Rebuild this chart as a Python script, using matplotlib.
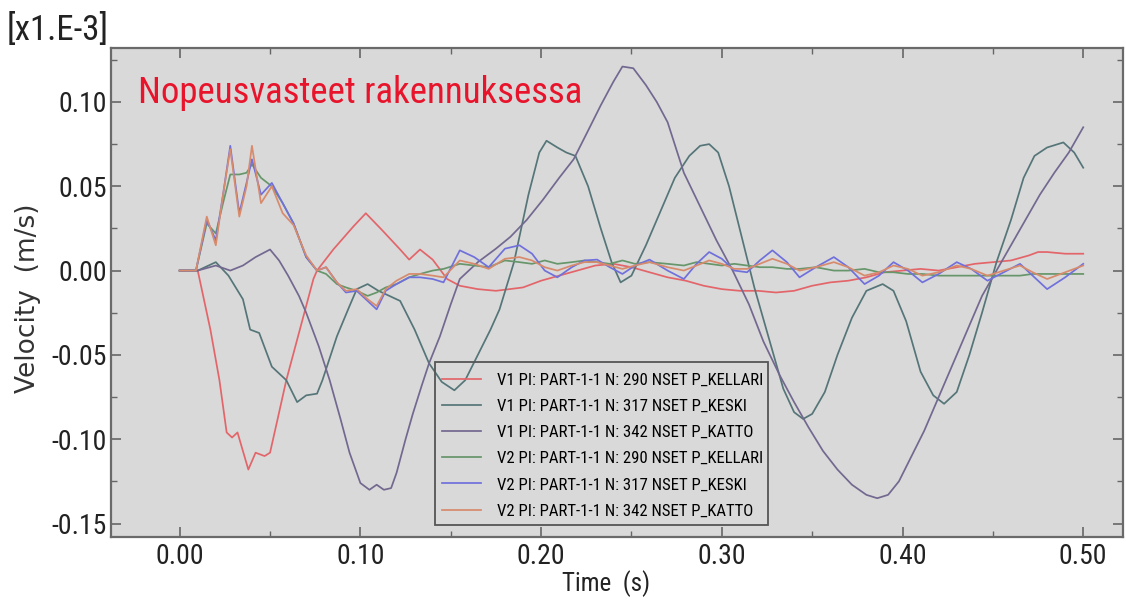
import matplotlib
matplotlib.use("Agg")
import matplotlib.pyplot as plt
from matplotlib.ticker import MultipleLocator, FormatStrFormatter
from matplotlib import font_manager
from matplotlib.font_manager import FontProperties
from matplotlib.patches import Rectangle

# ---------------- data ----------------
labels = [
    "V1 PI: PART-1-1 N: 290 NSET P_KELLARI",
    "V1 PI: PART-1-1 N: 317 NSET P_KESKI",
    "V1 PI: PART-1-1 N: 342 NSET P_KATTO",
    "V2 PI: PART-1-1 N: 290 NSET P_KELLARI",
    "V2 PI: PART-1-1 N: 317 NSET P_KESKI",
    "V2 PI: PART-1-1 N: 342 NSET P_KATTO",
]

t_v1_290 = [0, 0.010, 0.011, 0.017, 0.022, 0.026, 0.029, 0.032, 0.038, 0.042, 0.047, 0.050,
            0.054, 0.059, 0.065, 0.070, 0.074, 0.076, 0.085, 0.096, 0.103, 0.112, 0.122, 0.127,
            0.133, 0.140, 0.148, 0.155, 0.165, 0.175, 0.190, 0.200, 0.210, 0.220, 0.230, 0.240,
            0.250, 0.260, 0.270, 0.280, 0.290, 0.300, 0.310, 0.320, 0.330, 0.340, 0.350, 0.360,
            0.370, 0.380, 0.390, 0.400, 0.410, 0.420, 0.430, 0.440, 0.450, 0.460, 0.470, 0.475,
            0.480, 0.490, 0.500]
v_v1_290 = [0, 0, -0.005, -0.035, -0.065, -0.096, -0.099, -0.096, -0.118, -0.108, -0.110, -0.108,
            -0.089, -0.065, -0.041, -0.021, -0.005, 0.0, 0.0125, 0.026, 0.034, 0.024, 0.0125, 0.0065,
            0.0125, 0.0065, -0.005, -0.009, -0.011, -0.012, -0.010, -0.006, -0.003, 0.0, 0.003, 0.004,
            0.002, -0.001, -0.004, -0.006, -0.009, -0.011, -0.012, -0.012, -0.013, -0.012, -0.009, -0.007,
            -0.006, -0.004, -0.001, 0.0, 0.001, 0.0, 0.002, 0.004, 0.005, 0.006, 0.009, 0.011,
            0.011, 0.010, 0.010]

t_v1_317 = [0, 0.010, 0.020, 0.027, 0.035, 0.039, 0.044, 0.051, 0.059, 0.065, 0.070, 0.076,
            0.079, 0.087, 0.094, 0.098, 0.104, 0.110, 0.116, 0.122, 0.130, 0.138, 0.145, 0.152,
            0.158, 0.165, 0.172, 0.177, 0.185, 0.193, 0.199, 0.203, 0.209, 0.214, 0.219, 0.226,
            0.233, 0.239, 0.244, 0.250, 0.258, 0.266, 0.274, 0.282, 0.288, 0.293, 0.298, 0.304,
            0.311, 0.318, 0.326, 0.334, 0.340, 0.345, 0.350, 0.357, 0.364, 0.372, 0.380, 0.389,
            0.395, 0.402, 0.410, 0.417, 0.423, 0.430, 0.437, 0.444, 0.452, 0.460, 0.467, 0.473,
            0.480, 0.489, 0.495, 0.500]
v_v1_317 = [0, 0, 0.005, -0.003, -0.017, -0.035, -0.037, -0.057, -0.065, -0.078, -0.074, -0.073,
            -0.065, -0.039, -0.021, -0.011, -0.008, -0.012, -0.015, -0.018, -0.035, -0.055, -0.066, -0.071,
            -0.065, -0.050, -0.035, -0.023, 0.005, 0.045, 0.070, 0.077, 0.073, 0.070, 0.068, 0.050,
            0.025, 0.005, -0.007, -0.003, 0.015, 0.035, 0.055, 0.068, 0.074, 0.075, 0.070, 0.050,
            0.020, -0.010, -0.040, -0.070, -0.084, -0.088, -0.085, -0.072, -0.050, -0.028, -0.012, -0.008,
            -0.012, -0.030, -0.060, -0.074, -0.079, -0.072, -0.050, -0.025, 0.005, 0.030, 0.055, 0.068,
            0.073, 0.076, 0.070, 0.061]

t_v1_342 = [0, 0.010, 0.020, 0.028, 0.035, 0.042, 0.050, 0.055, 0.060, 0.066, 0.070, 0.077,
            0.083, 0.089, 0.094, 0.100, 0.105, 0.109, 0.113, 0.117, 0.120, 0.125, 0.129, 0.134,
            0.138, 0.144, 0.150, 0.155, 0.165, 0.175, 0.183, 0.192, 0.201, 0.210, 0.218, 0.226,
            0.233, 0.240, 0.245, 0.251, 0.258, 0.264, 0.270, 0.279, 0.288, 0.297, 0.306, 0.315,
            0.323, 0.332, 0.340, 0.348, 0.356, 0.364, 0.372, 0.380, 0.386, 0.392, 0.398, 0.405,
            0.412, 0.420, 0.428, 0.436, 0.444, 0.452, 0.460, 0.468, 0.476, 0.484, 0.492, 0.500]
v_v1_342 = [0, 0, 0.003, 0.0, 0.003, 0.008, 0.0125, 0.006, -0.003, -0.015, -0.025, -0.045,
            -0.065, -0.088, -0.108, -0.126, -0.130, -0.127, -0.130, -0.129, -0.120, -0.100, -0.085, -0.068,
            -0.055, -0.039, -0.020, -0.005, 0.005, 0.013, 0.020, 0.030, 0.042, 0.055, 0.066, 0.083,
            0.098, 0.112, 0.121, 0.120, 0.110, 0.100, 0.088, 0.058, 0.038, 0.018, 0.0, -0.020,
            -0.042, -0.062, -0.078, -0.093, -0.107, -0.118, -0.127, -0.133, -0.135, -0.133, -0.125, -0.110,
            -0.095, -0.075, -0.055, -0.035, -0.015, 0.0, 0.015, 0.030, 0.045, 0.058, 0.070, 0.085]

t_v2 = [0, 0.009, 0.015, 0.020, 0.024, 0.028, 0.033, 0.037, 0.040, 0.045, 0.051, 0.057,
        0.063, 0.070, 0.076, 0.081, 0.087, 0.092, 0.098, 0.104, 0.109, 0.114, 0.120, 0.127,
        0.133, 0.140, 0.146, 0.155, 0.163, 0.171, 0.180, 0.188, 0.195, 0.202, 0.209, 0.217,
        0.224, 0.231, 0.238, 0.245, 0.252, 0.260, 0.270, 0.279, 0.286, 0.293, 0.300, 0.307,
        0.314, 0.321, 0.328, 0.336, 0.343, 0.352, 0.362, 0.370, 0.379, 0.387, 0.395, 0.403,
        0.411, 0.420, 0.430, 0.438, 0.447, 0.456, 0.465, 0.472, 0.480, 0.490, 0.500]
v_v2_290 = [0, 0, 0.028, 0.022, 0.040, 0.057, 0.057, 0.058, 0.063, 0.055, 0.050, 0.040,
            0.028, 0.008, 0.0, -0.002, -0.008, -0.010, -0.012, -0.015, -0.013, -0.010, -0.008, -0.004,
            -0.002, 0.0, 0.001, 0.004, 0.003, 0.002, 0.006, 0.005, 0.004, 0.006, 0.004, 0.005,
            0.006, 0.005, 0.004, 0.006, 0.004, 0.005, 0.004, 0.003, 0.005, 0.004, 0.003, 0.004,
            0.003, 0.002, 0.002, 0.001, 0.001, 0.002, 0.0, 0.0, 0.001, -0.001, -0.001, -0.002,
            -0.002, -0.003, -0.003, -0.003, -0.003, -0.003, -0.003, -0.002, -0.002, -0.002, -0.002]
v_v2_317 = [0, 0, 0.030, 0.018, 0.045, 0.074, 0.034, 0.052, 0.066, 0.045, 0.052, 0.040,
            0.028, 0.008, 0.0, 0.002, -0.007, -0.013, -0.012, -0.018, -0.023, -0.012, -0.008, -0.004,
            -0.004, -0.005, -0.007, 0.012, 0.008, 0.002, 0.013, 0.015, 0.010, 0.0, -0.004, 0.002,
            0.006, 0.0065, 0.002, -0.002, 0.003, 0.0065, 0.0, -0.005, 0.004, 0.011, 0.007, 0.0,
            -0.001, 0.006, 0.012, 0.005, -0.004, 0.002, 0.008, 0.002, -0.008, -0.003, 0.005, 0.0,
            -0.007, -0.002, 0.005, 0.001, -0.006, -0.001, 0.004, -0.003, -0.011, -0.004, 0.004]
v_v2_342 = [0, 0, 0.032, 0.015, 0.045, 0.072, 0.032, 0.050, 0.074, 0.040, 0.050, 0.034,
            0.027, 0.009, 0.0, 0.002, -0.007, -0.012, -0.011, -0.017, -0.021, -0.011, -0.006, -0.002,
            -0.002, -0.003, -0.004, 0.006, 0.004, 0.001, 0.007, 0.008, 0.006, 0.002, 0.000, 0.003,
            0.005, 0.005, 0.003, 0.001, 0.003, 0.005, 0.002, 0.000, 0.003, 0.006, 0.004, 0.001,
            0.001, 0.004, 0.007, 0.004, 0.000, 0.002, 0.005, 0.002, -0.003, -0.001, 0.003, 0.001,
            -0.003, -0.001, 0.003, 0.001, -0.003, 0.000, 0.003, -0.001, -0.005, -0.001, 0.003]

series = [
    (t_v1_290, v_v1_290, "#e3656a"),
    (t_v1_317, v_v1_317, "#557578"),
    (t_v1_342, v_v1_342, "#736890"),
    (t_v2, v_v2_290, "#66966a"),
    (t_v2, v_v2_317, "#7070dc"),
    (t_v2, v_v2_342, "#d88a6c"),
]

x_ticks = [0.0, 0.1, 0.2, 0.3, 0.4, 0.5]
y_ticks = [-0.15, -0.10, -0.05, 0.0, 0.05, 0.10]


# ---------------- fonts: pick a narrow face if one is installed ----------------
def pick_narrow():
    fl = font_manager.fontManager.ttflist
    prefs = [
        lambda f: f.name == "Liberation Sans Narrow" and f.weight in (400, "normal", "regular") and f.style == "normal",
        lambda f: f.name == "Roboto Condensed" and f.weight in (400, "normal", "regular") and f.style == "normal",
        lambda f: f.name == "Open Sans Condensed" and f.style == "normal",
        lambda f: f.name == "Noto Sans" and f.stretch == "condensed" and f.weight in (400, "normal", "regular") and f.style == "normal",
        lambda f: f.name == "DejaVu Sans" and f.stretch == "condensed" and f.weight in (400, "normal", "regular") and f.style == "normal",
        lambda f: "Condensed" in f.fname and f.style == "normal" and "Bold" not in f.fname and "Light" not in f.fname,
        lambda f: "Narrow" in f.fname and f.style == "normal" and "Bold" not in f.fname,
    ]
    for p in prefs:
        for f in fl:
            try:
                if p(f):
                    return f.fname
            except Exception:
                pass
    return None


nf = pick_narrow()


def NP(size):
    if nf:
        return FontProperties(fname=nf, size=size)
    return FontProperties(family="Roboto", size=size)


W, H = 1126, 603
fig = plt.figure(figsize=(W / 100, H / 100), dpi=100)
fig.patch.set_facecolor("white")
ax = fig.add_axes([111 / W, 1 - 537 / H, (1123 - 111) / W, (537 - 48) / H])
ax.set_facecolor("#d9d9d9")

handles = []
for (t, v, c), lab in zip(series, labels):
    h, = ax.plot(t, v, color=c, lw=1.25, label=lab, zorder=3)
    handles.append(h)

ax.set_xlim(-0.038, 0.522)
ax.set_ylim(-0.158, 0.132)
ax.set_xticks(x_ticks)
ax.set_yticks(y_ticks)
ax.xaxis.set_minor_locator(MultipleLocator(0.05))
ax.yaxis.set_minor_locator(MultipleLocator(0.025))
ax.xaxis.set_major_formatter(FormatStrFormatter("%.2f"))
ax.yaxis.set_major_formatter(FormatStrFormatter("%.2f"))
ax.tick_params(which="both", direction="in", top=True, right=True, color="#666666")
ax.tick_params(which="major", length=7, width=1.2)
ax.tick_params(which="minor", length=4, width=1.0)
ax.tick_params(axis="y", which="major", pad=3)
ax.tick_params(axis="x", which="major", pad=4)
for lab in ax.get_xticklabels() + ax.get_yticklabels():
    lab.set_fontproperties(NP(20))
    lab.set_color("#222222")
for s in ax.spines.values():
    s.set_color("#6a6a6a")
    s.set_linewidth(1.6)

fig.text(606 / W, 1 - 584 / H, "Time  (s)", fontproperties=NP(18), color="#222222",
         ha="center", va="center")
fig.text(28 / W, 1 - 298 / H, "Velocity  (m/s)", fontfamily="DejaVu Sans", fontsize=19,
         color="#333333", rotation=90, ha="center", va="center")

fig.text(7 / W, 1 - 30 / H, "[x1.E-3]", fontproperties=NP(25), color="#222222",
         ha="left", va="center")
fig.text(138 / W, 1 - 103 / H, "Nopeusvasteet rakennuksessa", fontproperties=NP(26.6),
         color="#e8142c", ha="left", va="baseline")

# legend: entries without frame, frame drawn as a rectangle matching the reference box
leg = ax.legend(handles=handles, loc="upper left",
                bbox_to_anchor=(442 / W, 1 - 373 / H), bbox_transform=fig.transFigure,
                borderaxespad=0, borderpad=0, prop=NP(12.1),
                frameon=False, handlelength=2.3, handletextpad=1.0,
                labelspacing=0.66)
leg.set_zorder(4)
box = Rectangle((435 / W, 1 - 525 / H), (768 - 435) / W, (525 - 362) / H,
                transform=fig.transFigure, facecolor="none", edgecolor="#555555",
                linewidth=1.3, zorder=5)
fig.patches.append(box)

fig.savefig("out.png", dpi=100, facecolor="white")
